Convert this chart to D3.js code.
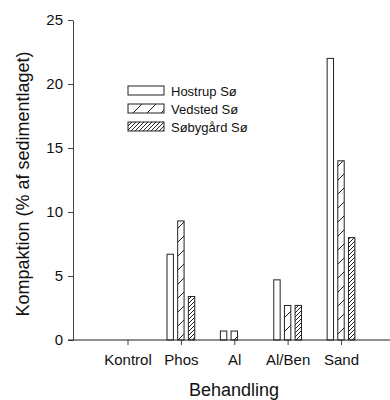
<!DOCTYPE html>
<html>
<head>
<meta charset="utf-8">
<script src="https://cdn.jsdelivr.net/npm/d3@7"></script>
<style>
  body { margin: 0; background: #fff; }
  text { font-family: "Liberation Sans", Arial, sans-serif; fill: #111; }
</style>
</head>
<body>
<svg width="390" height="400"></svg>
<script>
const categories = ["Kontrol", "Phos", "Al", "Al/Ben", "Sand"];
const seriesNames = ["Hostrup Sø", "Vedsted Sø", "Søbygård Sø"];
const hostrup = [0, 6.7, 0.7, 4.7, 22];
const vedsted = [0, 9.3, 0.7, 2.7, 14];
const sobygard = [0, 3.4, 0, 2.7, 8];
const yTicks = [0, 5, 10, 15, 20, 25];

const seriesValues = [hostrup, vedsted, sobygard];
const fills = ["#fff", "url(#hatchWide)", "url(#hatchDense)"];

const svg = d3.select("svg");

// hatch patterns
const defs = svg.append("defs");
function hatch(id, size) {
    const p = defs.append("pattern")
        .attr("id", id)
        .attr("patternUnits", "userSpaceOnUse")
        .attr("width", size)
        .attr("height", size);
    p.append("rect").attr("width", size).attr("height", size).attr("fill", "#fff");
    p.append("path")
        .attr("d", "M0," + size + " L" + size + ",0 M-1,1 L1,-1 M" + (size - 1) + "," + (size + 1) + " L" + (size + 1) + "," + (size - 1))
        .attr("stroke", "#222")
        .attr("stroke-width", 1);
}
hatch("hatchWide", 14);
hatch("hatchDense", 4);

const x0 = 73, xEnd = 390;

const x = d3.scalePoint()
    .domain(categories)
    .range([127.5, 341]);

const xs = d3.scaleBand()
    .domain(seriesNames)
    .range([-16, 16])
    .paddingInner(0.4)
    .paddingOuter(0.2);

const y = d3.scaleLinear()
    .domain([0, 25])
    .range([340, 20]);

// bars
seriesNames.forEach(function(name, si) {
    const data = categories.map(function(c, i) { return { cat: c, value: seriesValues[si][i] }; })
        .filter(function(d) { return d.value > 0; });
    svg.append("g")
        .selectAll("rect")
        .data(data)
        .enter().append("rect")
        .attr("x", function(d) { return x(d.cat) + xs(name); })
        .attr("y", function(d) { return y(d.value); })
        .attr("width", xs.bandwidth())
        .attr("height", function(d) { return y(0) - y(d.value); })
        .attr("fill", fills[si])
        .attr("stroke", "#222")
        .attr("stroke-width", 1);
});

// y axis
const yAxis = svg.append("g")
    .attr("transform", "translate(" + x0 + ",0)")
    .call(d3.axisLeft(y).tickValues(yTicks).tickSize(5).tickSizeOuter(0).tickPadding(5));
yAxis.selectAll("text").style("font-size", "15px");
yAxis.selectAll("line, path").attr("stroke", "#444");

// x axis
const xAxis = svg.append("g")
    .attr("transform", "translate(0," + y(0) + ")")
    .call(d3.axisBottom(x).tickSize(5).tickPadding(9));
xAxis.select(".domain").remove();
xAxis.selectAll("text").style("font-size", "15px");
xAxis.selectAll("line").attr("stroke", "#444");
xAxis.append("line")
    .attr("x1", x0 - 5).attr("x2", xEnd)
    .attr("stroke", "#222");

// axis titles
svg.append("text")
    .attr("transform", "translate(29,184) rotate(-90)")
    .attr("text-anchor", "middle")
    .style("font-size", "18px")
    .text("Kompaktion (% af sedimentlaget)");

svg.append("text")
    .attr("x", 234)
    .attr("y", 396)
    .attr("text-anchor", "middle")
    .style("font-size", "18px")
    .text("Behandling");

// legend
const legend = svg.append("g").attr("transform", "translate(128,86)");
seriesNames.forEach(function(name, i) {
    const row = legend.append("g").attr("transform", "translate(0," + (i * 18) + ")");
    row.append("rect")
        .attr("width", 36).attr("height", 9)
        .attr("fill", fills[i])
        .attr("stroke", "#222");
    row.append("text")
        .attr("x", 43).attr("y", 9.5)
        .style("font-size", "13px")
        .text(name);
});
</script>
</body>
</html>
